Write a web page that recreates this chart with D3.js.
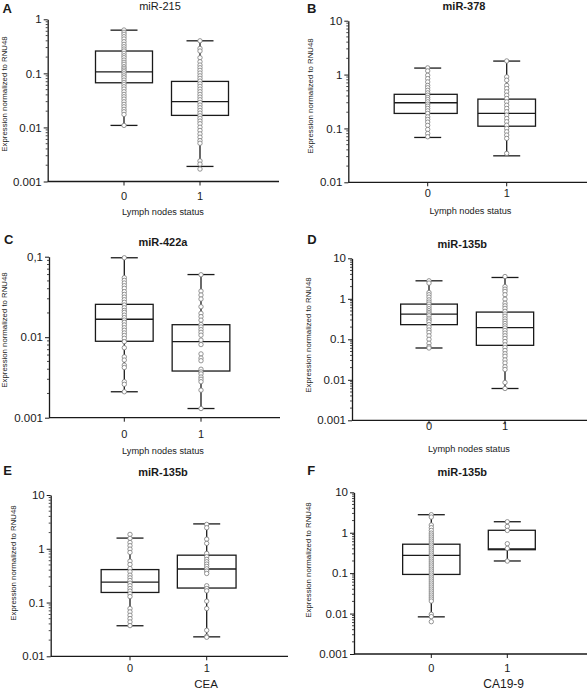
<!DOCTYPE html>
<html><head><meta charset="utf-8">
<script src="https://cdn.jsdelivr.net/npm/d3@7"></script>
<style>
body{margin:0;background:#fff;}
svg{display:block;font-family:"Liberation Sans",Arial,Helvetica,sans-serif;}
</style></head>
<body><svg id="chart" width="588" height="691"></svg>
<script>
// ---------------- DATA ----------------
const categories = ["0", "1"];
const panelLetters = ["A", "B", "C", "D", "E", "F"];
const panelTitles = ["miR-215", "miR-378", "miR-422a", "miR-135b", "miR-135b", "miR-135b"];
const xAxisTitles = ["Lymph nodes status", "Lymph nodes status", "Lymph nodes status", "Lymph nodes status", "CEA", "CA19-9"];
const yAxisTitle = "Expression normalized to RNU48";

const yTicksA = [0.001, 0.01, 0.1, 1];
const yTickLabelsA = ["0.001", "0.01", "0.1", "1"];
const yTicksB = [0.01, 0.1, 1, 10];
const yTickLabelsB = ["0.01", "0.1", "1", "10"];
const yTicksC = [0.001, 0.01, 0.1];
const yTickLabelsC = ["0.001", "0.01", "0,1"];
const yTicksD = [0.001, 0.01, 0.1, 1, 10];
const yTickLabelsD = ["0.001", "0.01", "0.1", "1", "10"];
const yTicksE = [0.01, 0.1, 1, 10];
const yTickLabelsE = ["0.01", "0.1", "1", "10"];
const yTicksF = [0.001, 0.01, 0.1, 1, 10];
const yTickLabelsF = ["0.001", "0.01", "0.1", "1", "10"];

// box stats: [min, q1, median, q3, max]
const boxA0 = [0.0109, 0.067, 0.107, 0.259, 0.63];
const boxA1 = [0.0019, 0.0167, 0.030, 0.071, 0.40];
const boxB0 = [0.068, 0.19, 0.30, 0.43, 1.32];
const boxB1 = [0.031, 0.11, 0.19, 0.35, 1.78];
const boxC0 = [0.0021, 0.0089, 0.0167, 0.0256, 0.097];
const boxC1 = [0.0013, 0.0038, 0.0088, 0.0143, 0.060];
const boxD0 = [0.061, 0.23, 0.42, 0.74, 2.78];
const boxD1 = [0.0061, 0.071, 0.195, 0.47, 3.36];
const boxE0 = [0.037, 0.154, 0.24, 0.41, 1.58];
const boxE1 = [0.023, 0.186, 0.42, 0.76, 2.9];
const boxF0 = [0.0083, 0.093, 0.276, 0.52, 2.79];
const boxF1 = [0.20, 0.38, 0.40, 1.15, 1.87];

// individual samples
const ptsA0 = [0.634,0.574,0.527,0.476,0.432,0.385,0.344,0.311,0.282,0.259,0.234,0.212,0.195,0.176,0.160,0.147,0.133,0.124,0.115,0.107,0.098,0.090,0.083,0.075,0.068,0.0625,0.0565,0.0512,0.0457,0.0408,0.0369,0.0334,0.0298,0.0267,0.0241,0.0216,0.0195,0.0174,0.0109];
const ptsA1 = [0.40,0.290,0.259,0.195,0.164,0.1425,0.127,0.1137,0.1013,0.090,0.0807,0.072,0.0642,0.0574,0.0512,0.0457,0.0408,0.0364,0.0325,0.029,0.0259,0.0231,0.0206,0.0184,0.0164,0.0147,0.0131,0.0117,0.0101,0.0088,0.0076,0.0066,0.0057,0.0051,0.0024,0.0021,0.0017];
const ptsB0 = [1.33,1.17,0.97,0.84,0.73,0.63,0.57,0.51,0.457,0.414,0.375,0.344,0.312,0.282,0.259,0.235,0.212,0.19,0.164,0.147,0.131,0.114,0.0958,0.0807,0.070];
const ptsB1 = [1.79,0.905,0.785,0.63,0.55,0.477,0.414,0.36,0.312,0.27,0.235,0.204,0.177,0.153,0.133,0.115,0.10,0.0867,0.0753,0.0653,0.0344];
const ptsC0 = [0.097,0.0548,0.0508,0.0471,0.0436,0.0405,0.0368,0.034,0.0315,0.0292,0.0271,0.0251,0.0232,0.0215,0.0203,0.0188,0.0175,0.0163,0.0153,0.0142,0.0131,0.0122,0.0113,0.0105,0.0097,0.0088,0.0074,0.0057,0.0052,0.0045,0.0042,0.0028,0.0026,0.0021];
const ptsC1 = [0.0597,0.0374,0.0334,0.0298,0.0239,0.0198,0.018,0.0163,0.0144,0.0134,0.0124,0.0115,0.0106,0.0092,0.0081,0.0062,0.0055,0.0051,0.004,0.0037,0.0035,0.0032,0.003,0.0028,0.0022,0.0013];
const ptsD0 = [2.78,2.44,1.43,1.26,1.10,0.94,0.83,0.74,0.65,0.57,0.51,0.46,0.42,0.38,0.33,0.30,0.27,0.23,0.20,0.17,0.148,0.122,0.10,0.080,0.066,0.061];
const ptsD1 = [3.55,2.0,1.73,1.52,1.26,0.98,0.78,0.67,0.58,0.49,0.42,0.37,0.32,0.28,0.246,0.215,0.19,0.165,0.142,0.122,0.105,0.088,0.073,0.063,0.053,0.044,0.038,0.031,0.026,0.021,0.018,0.0086,0.0061];
const ptsE0 = [1.85,1.56,1.31,1.14,0.986,0.855,0.589,0.511,0.43,0.373,0.323,0.288,0.257,0.229,0.205,0.182,0.163,0.145,0.129,0.0773,0.067,0.058,0.0503,0.0436,0.0372];
const ptsE1 = [2.84,2.46,1.51,1.26,0.819,0.71,0.633,0.573,0.518,0.469,0.424,0.384,0.347,0.205,0.182,0.165,0.106,0.0773,0.0305,0.0236,0.0226];
const ptsF0 = [2.79,2.44,1.55,1.33,1.14,0.98,0.876,0.782,0.697,0.622,0.555,0.495,0.442,0.394,0.352,0.314,0.28,0.25,0.223,0.199,0.178,0.159,0.142,0.126,0.113,0.1005,0.0897,0.080,0.0715,0.0638,0.0569,0.0508,0.0453,0.0404,0.0361,0.0322,0.0287,0.0256,0.0229,0.0204,0.0096,0.0084,0.0063];
const ptsF1 = [1.87,1.43,1.14,0.535,0.41,0.199];

// ---------------- LAYOUT ----------------
const layouts = [
  {axisX:47.7, right:279, yTop:19.3, yBot:181.5, cx:[124,200], boxW:[57,57], boxDx:[0,0], title:[160,9.5], bold:false, letter:[2.5,13.3], ylab:[6.5,94], xtickY:200, xlab:[163,214.5], xlabSize:9.2},
  {axisX:348.3, right:587, yTop:20.7, yBot:182.3, cx:[427.7,506.7], boxW:[63,57.6], boxDx:[-2,0], title:[464,9.5], bold:true, letter:[307,13.3], ylab:[313,96], xtickY:196.5, xlab:[470.5,214.3], xlabSize:9.2},
  {axisX:49, right:280, yTop:256.7, yBot:417.7, cx:[124.3,201], boxW:[57.7,57.7], boxDx:[0,0], title:[163,245.5], bold:true, letter:[4,244.3], ylab:[6.5,330], xtickY:438.3, xlab:[163,454], xlabSize:9.2},
  {axisX:352, right:587, yTop:258.3, yBot:420.3, cx:[429,505], boxW:[56.7,57.3], boxDx:[0,0], title:[462.3,247.5], bold:true, letter:[307.3,244.3], ylab:[310.5,335], xtickY:429.5, xlab:[469,451.5], xlabSize:9.2},
  {axisX:50.7, right:288, yTop:495, yBot:656.3, cx:[130,206.7], boxW:[57.7,58.7], boxDx:[0,0], title:[163,475.5], bold:true, letter:[3.3,475], ylab:[15.5,563], xtickY:672.3, xlab:[206,687.5], xlabSize:11.5},
  {axisX:354, right:587, yTop:492.3, yBot:654, cx:[431.3,507.3], boxW:[57.3,47], boxDx:[0,4.5], title:[462.3,475.5], bold:true, letter:[307.3,475], ylab:[310.5,560], xtickY:672.3, xlab:[503.7,688], xlabSize:12}
];

const panelTicks = [[yTicksA,yTickLabelsA],[yTicksB,yTickLabelsB],[yTicksC,yTickLabelsC],[yTicksD,yTickLabelsD],[yTicksE,yTickLabelsE],[yTicksF,yTickLabelsF]];
const panelBoxes = [[boxA0,boxA1],[boxB0,boxB1],[boxC0,boxC1],[boxD0,boxD1],[boxE0,boxE1],[boxF0,boxF1]];
const panelPoints = [[ptsA0,ptsA1],[ptsB0,ptsB1],[ptsC0,ptsC1],[ptsD0,ptsD1],[ptsE0,ptsE1],[ptsF0,ptsF1]];

const svg = d3.select("#chart");
const ink = "#1a1a1a";

layouts.forEach((L, i) => {
  const [ticks, tickLabels] = panelTicks[i];
  const g = svg.append("g");
  const y = d3.scaleLog().domain([ticks[0], ticks[ticks.length-1]]).range([L.yBot, L.yTop]);
  const x = d3.scaleLinear().domain([0, 1]).range(L.cx);

  // y axis
  const yAxis = d3.axisLeft(y).tickValues(ticks).tickFormat((d, k) => tickLabels[k]).tickSizeInner(4).tickSizeOuter(0).tickPadding(2);
  const ya = g.append("g").attr("transform", `translate(${L.axisX},0)`).call(yAxis);
  ya.select(".domain").attr("stroke", ink).attr("stroke-width", 1.3);
  ya.selectAll(".tick line").attr("stroke", ink).attr("stroke-width", 1);
  ya.selectAll(".tick text").attr("font-size", 11.5).attr("fill", ink).attr("font-family", "Liberation Sans, Arial, sans-serif");
  // minor ticks
  const minors = [];
  for (let k = 0; k < ticks.length - 1; k++) for (let m = 2; m <= 9; m++) minors.push(ticks[k] * m);
  g.selectAll(".minor").data(minors).enter().append("line")
    .attr("x1", L.axisX - 2).attr("x2", L.axisX)
    .attr("y1", d => y(d)).attr("y2", d => y(d))
    .attr("stroke", ink).attr("stroke-width", 0.8);

  // x axis
  g.append("line").attr("x1", L.axisX).attr("x2", L.right).attr("y1", L.yBot).attr("y2", L.yBot)
    .attr("stroke", ink).attr("stroke-width", 1.3);
  categories.forEach((c, k) => {
    g.append("line").attr("x1", x(k)).attr("x2", x(k)).attr("y1", L.yBot).attr("y2", L.yBot + 4)
      .attr("stroke", ink).attr("stroke-width", 1);
    g.append("text").attr("x", x(k)).attr("y", L.xtickY).attr("text-anchor", "middle")
      .attr("font-size", 11).attr("fill", ink).text(c);
  });

  // boxes
  panelBoxes[i].forEach((b, k) => {
    const cx = x(k);
    const [mn, q1, md, q3, mx] = b;
    const bx = cx + L.boxDx[k], w = L.boxW[k];
    g.append("line").attr("x1", cx).attr("x2", cx).attr("y1", y(mn)).attr("y2", y(q1)).attr("stroke", ink).attr("stroke-width", 1.3);
    g.append("line").attr("x1", cx).attr("x2", cx).attr("y1", y(q3)).attr("y2", y(mx)).attr("stroke", ink).attr("stroke-width", 1.3);
    [mn, mx].forEach(v => g.append("line").attr("x1", cx - 13.5).attr("x2", cx + 13.5).attr("y1", y(v)).attr("y2", y(v)).attr("stroke", ink).attr("stroke-width", 1.3));
    g.append("rect").attr("x", bx - w / 2).attr("width", w).attr("y", y(q3)).attr("height", y(q1) - y(q3))
      .attr("fill", "none").attr("stroke", ink).attr("stroke-width", 1.3);
    g.append("line").attr("x1", bx - w / 2).attr("x2", bx + w / 2).attr("y1", y(md)).attr("y2", y(md)).attr("stroke", ink).attr("stroke-width", 1.3);
  });

  // points
  panelPoints[i].forEach((pts, k) => {
    g.selectAll(null).data(pts).enter().append("circle")
      .attr("cx", x(k)).attr("cy", d => y(d)).attr("r", 2.2)
      .attr("fill", "#fff").attr("stroke", "#7a7a7a").attr("stroke-width", 0.8);
  });

  // texts
  g.append("text").attr("x", L.title[0]).attr("y", L.title[1]).attr("text-anchor", "middle")
    .attr("font-size", 11).attr("font-weight", L.bold ? "bold" : "normal").attr("fill", ink).text(panelTitles[i]);
  g.append("text").attr("x", L.letter[0]).attr("y", L.letter[1])
    .attr("font-size", 13).attr("font-weight", "bold").attr("fill", ink).text(panelLetters[i]);
  g.append("text").attr("transform", `translate(${L.ylab[0]},${L.ylab[1]}) rotate(-90)`).attr("text-anchor", "middle")
    .attr("font-size", 7.8).attr("fill", ink).text(yAxisTitle);
  g.append("text").attr("x", L.xlab[0]).attr("y", L.xlab[1]).attr("text-anchor", "middle")
    .attr("font-size", L.xlabSize).attr("fill", ink).text(xAxisTitles[i]);
});
</script></body></html>
